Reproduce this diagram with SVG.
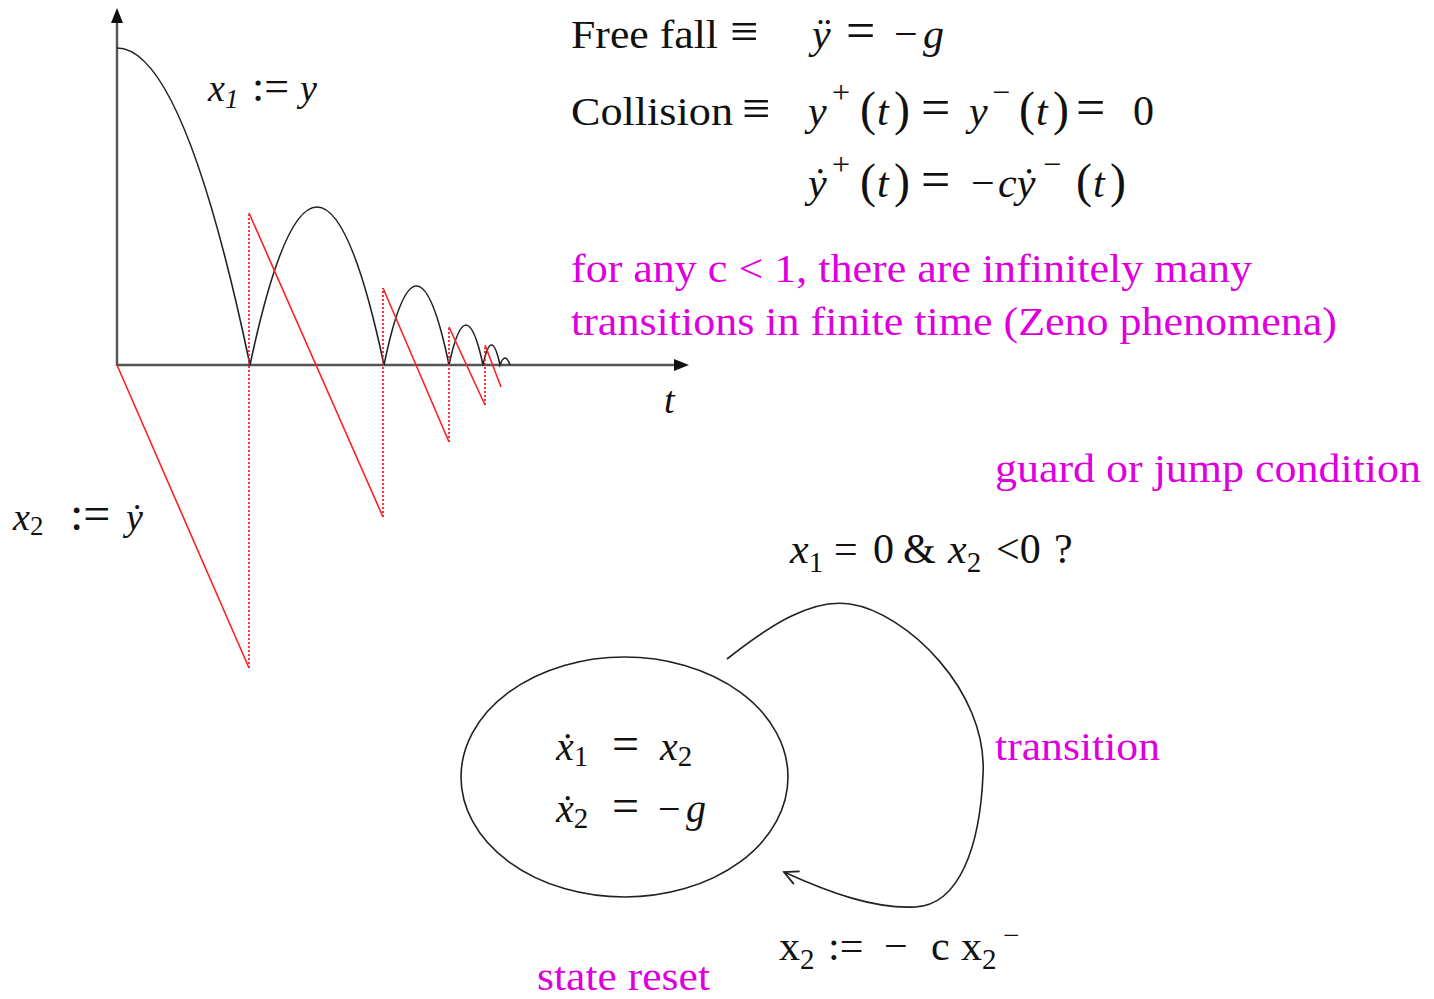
<svg xmlns="http://www.w3.org/2000/svg" width="1434" height="999" viewBox="0 0 1434 999">
<style>
.t{font-family:"Liberation Serif","DejaVu Serif",serif;fill:#111;}
.i{font-style:italic;}
.n{font-style:normal;}
.m{fill:#dd00dd;}
.ax{stroke:#555;stroke-width:2.4;fill:none;}
.curve{stroke:#222;stroke-width:1.6;fill:none;}
.red{stroke:#ff2020;stroke-width:1.6;fill:none;}
.redd{stroke:#ff2020;stroke-width:1.8;fill:none;stroke-dasharray:2 2;}
</style>
<defs>
<marker id="openArrow" markerWidth="24" markerHeight="24" refX="18" refY="10" orient="auto" markerUnits="userSpaceOnUse">
<path d="M4 3 L18 10 L4 17" fill="none" stroke="#222" stroke-width="1.8"/>
</marker>
</defs>
<rect width="1434" height="999" fill="#fff"/>

<g id="plot">
<line class="ax" x1="117" y1="366" x2="117" y2="20"/>
<polygon points="117,8 111,23 123,23" fill="#111"/>
<line class="ax" x1="117" y1="365" x2="676" y2="365"/>
<polygon points="689,365 674,359 674,371" fill="#111"/>
<path class="curve" d="M117 48 Q183.5 48 250 365 Q317 49 384 365 Q416.5 207 449 365 Q466 285 483 365 Q491.5 325 500 365 Q505 351 510 365"/>
<path class="red" d="M117 365 L249 668 M249 213 L383 517 M383 288 L449 442 M449 327 L485 405 M485 345 L501 387"/>
<path class="redd" d="M249 668 L249 213 M383 517 L383 288 M449 442 L449 327 M485 405 L485 345"/>
<text class="t i" x="208" y="101" font-size="38">x<tspan font-size="27" dy="7">1</tspan><tspan class="n" font-size="44" dy="-7" x="252">:=</tspan><tspan x="300">y</tspan></text>
<text class="t i" x="664" y="413" font-size="38">t</text>
<text class="t i" x="13" y="530" font-size="38">x<tspan class="n" font-size="27" dy="5">2</tspan><tspan class="n" font-size="48" dy="-5" x="70">:=</tspan><tspan x="126">ẏ</tspan></text>
</g>

<g id="equations">
<text class="t" x="571" y="48" font-size="41" textLength="147" lengthAdjust="spacingAndGlyphs">Free fall</text>
<text class="t" x="730" y="48" font-size="50">≡</text>
<text class="t i" x="812" y="48" font-size="42">ÿ<tspan class="n" font-size="52" x="846">=</tspan><tspan class="n" x="894">−</tspan><tspan x="923">g</tspan></text>
<text class="t" x="571" y="125" font-size="41" textLength="162" lengthAdjust="spacingAndGlyphs">Collision</text>
<text class="t" x="742" y="125" font-size="50">≡</text>
<text class="t i" x="808" y="125" font-size="42">y<tspan class="n" font-size="32" x="832" dy="-22">+</tspan><tspan class="n" font-size="48" x="860" dy="22">(</tspan><tspan x="877">t</tspan><tspan class="n" font-size="48" x="894">)</tspan><tspan class="n" font-size="52" x="921">=</tspan><tspan x="969">y</tspan><tspan class="n" font-size="32" x="992" dy="-22">−</tspan><tspan class="n" font-size="48" x="1019" dy="22">(</tspan><tspan x="1036">t</tspan><tspan class="n" font-size="48" x="1053">)</tspan><tspan class="n" font-size="52" x="1076">=</tspan><tspan class="n" x="1133">0</tspan></text>
<text class="t i" x="808" y="197" font-size="42">ẏ<tspan class="n" font-size="32" x="832" dy="-22">+</tspan><tspan class="n" font-size="48" x="860" dy="22">(</tspan><tspan x="877">t</tspan><tspan class="n" font-size="48" x="894">)</tspan><tspan class="n" font-size="52" x="921">=</tspan><tspan class="n" x="971">−</tspan><tspan x="998">cẏ</tspan><tspan class="n" font-size="32" x="1043" dy="-22">−</tspan><tspan class="n" font-size="48" x="1076" dy="22">(</tspan><tspan x="1093">t</tspan><tspan class="n" font-size="48" x="1110">)</tspan></text>
<text class="t m" x="571" y="282" font-size="40" textLength="681" lengthAdjust="spacingAndGlyphs">for any c &lt; 1, there are infinitely many</text>
<text class="t m" x="571" y="335" font-size="40" textLength="766" lengthAdjust="spacingAndGlyphs">transitions in finite time (Zeno phenomena)</text>
</g>

<g id="state">
<ellipse cx="624.5" cy="777" rx="163.5" ry="120" fill="none" stroke="#222" stroke-width="1.6"/>
<text class="t i" x="556" y="760" font-size="40">ẋ<tspan class="n" font-size="29" dy="6">1</tspan><tspan class="n" font-size="48" x="612" dy="-6">=</tspan><tspan x="660">x</tspan><tspan class="n" font-size="29" dy="6">2</tspan></text>
<text class="t i" x="556" y="822" font-size="40">ẋ<tspan class="n" font-size="29" dy="6">2</tspan><tspan class="n" font-size="48" x="612" dy="-6">=</tspan><tspan class="n" x="658">−</tspan><tspan x="686">g</tspan></text>
</g>

<g id="connectors">
<path class="curve" d="M727 659 C770 625 812 598 850 604 C905 612 988 690 983 775 C980 845 960 905 915 907 C875 909 830 893 784 872" marker-end="url(#openArrow)"/>
</g>

<g id="labels">
<text class="t m" x="995" y="482" font-size="40" textLength="426" lengthAdjust="spacingAndGlyphs">guard or jump condition</text>
<text class="t" x="790" y="563" font-size="42"><tspan class="i">x</tspan><tspan font-size="29" dy="9">1</tspan><tspan x="834" dy="-9">=</tspan><tspan x="873">0</tspan><tspan x="903">&amp;</tspan><tspan x="948" class="i">x</tspan><tspan font-size="29" dy="9">2</tspan><tspan x="996" dy="-9">&lt;0</tspan><tspan x="1054">?</tspan></text>
<text class="t m" x="995" y="760" font-size="40" textLength="165" lengthAdjust="spacingAndGlyphs">transition</text>
<text class="t" x="779" y="960" font-size="42">x<tspan font-size="29" dy="9">2</tspan><tspan x="828" dy="-9">:=</tspan><tspan x="884">−</tspan><tspan x="931">c</tspan><tspan x="961">x</tspan><tspan font-size="29" dy="9">2</tspan><tspan font-size="29" x="1003" dy="-24">−</tspan></text>
<text class="t m" x="537" y="990" font-size="40" textLength="173" lengthAdjust="spacingAndGlyphs">state reset</text>
</g>
</svg>
